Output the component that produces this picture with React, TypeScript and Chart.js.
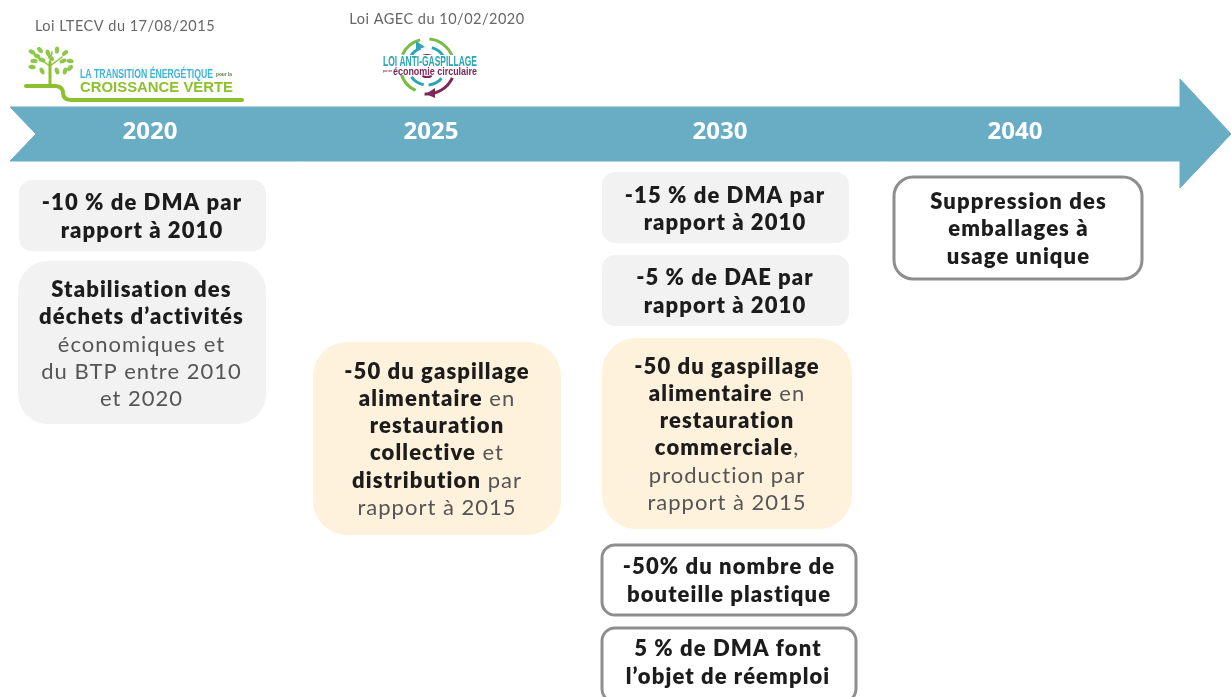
import React, { useEffect, useRef } from "react";
import { Chart, registerables } from "chart.js";

Chart.register(...registerables);

const W = 1231;
const H = 697;

// ---- content ----
const years = ["2020", "2025", "2030", "2040"];
const lawLabels = ["Loi LTECV du 17/08/2015", "Loi AGEC du 10/02/2020"];
const logoOneLines = ["LA TRANSITION ÉNERGÉTIQUE", "pour la", "CROISSANCE VERTE"];
const logoTwoLines = ["LOI ANTI-GASPILLAGE", "pour une", "économie circulaire"];

const textsDma2020 = ["**-10 % de DMA par**", "**rapport à 2010**"];
const textsStab = ["**Stabilisation des**", "**déchets d’activités**", "économiques et", "du BTP entre 2010", "et 2020"];
const textsGasp2025 = ["**-50 du gaspillage**", "**alimentaire** en", "**restauration**", "**collective** et", "**distribution** par", "rapport à 2015"];
const textsDma2030 = ["**-15 % de DMA par**", "**rapport à 2010**"];
const textsDae = ["**-5 % de DAE par**", "**rapport à 2010**"];
const textsGasp2030 = ["**-50 du gaspillage**", "**alimentaire** en", "**restauration**", "**commerciale**,", "production par", "rapport à 2015"];
const textsBottle = ["**-50% du nombre de**", "**bouteille plastique**"];
const textsReuse = ["**5 % de DMA font**", "**l’objet de réemploi**"];
const textsPack = ["**Suppression des**", "**emballages à**", "**usage unique**"];

// ---- layout ----
const arrowShape = [
  { x: 10, y: 107 }, { x: 1180, y: 107 }, { x: 1180, y: 79 }, { x: 1231, y: 134 },
  { x: 1180, y: 188 }, { x: 1180, y: 161 }, { x: 10, y: 161 }, { x: 36, y: 134 }, { x: 10, y: 107 },
];
const yearX = [150, 431, 720, 1015];
const lawPos = [{ x: 125, y: 26 }, { x: 437, y: 19.5 }];

type Box = { x0: number; x1: number; y0: number; y1: number; r: number; kind: string; cx: number; ys: number[]; lines: string[] };
const boxes: Box[] = [
  { x0: 19, x1: 266, y0: 180, y1: 251, r: 13, kind: "gray", cx: 142, ys: [203, 231], lines: textsDma2020 },
  { x0: 18, x1: 266, y0: 261, y1: 424, r: 30, kind: "gray", cx: 141.5, ys: [290, 317, 345, 372, 399], lines: textsStab },
  { x0: 313, x1: 561, y0: 342, y1: 535, r: 34, kind: "cream", cx: 437, ys: [372, 399, 426, 453, 481, 508], lines: textsGasp2025 },
  { x0: 602, x1: 849, y0: 172, y1: 243, r: 13, kind: "gray", cx: 725, ys: [196, 223], lines: textsDma2030 },
  { x0: 602, x1: 849, y0: 255, y1: 326, r: 13, kind: "gray", cx: 725, ys: [278, 306], lines: textsDae },
  { x0: 602, x1: 852, y0: 338, y1: 529, r: 34, kind: "cream", cx: 727, ys: [367, 394, 421, 448, 476, 503], lines: textsGasp2030 },
  { x0: 602, x1: 856, y0: 545, y1: 615, r: 13, kind: "line", cx: 729, ys: [567, 595], lines: textsBottle },
  { x0: 602, x1: 856, y0: 628, y1: 702, r: 13, kind: "line", cx: 728, ys: [649, 677], lines: textsReuse },
  { x0: 894, x1: 1142, y0: 177, y1: 279, r: 19, kind: "line", cx: 1018.5, ys: [202, 229, 257], lines: textsPack },
];
const leaves = [
  [32, 52, 0.5], [40, 50, 0.9], [48, 53, 1.3], [57, 50, 1.6], [65, 53, 2.4], [34, 61, 0], [42, 60, 0.3],
  [63, 61, 2.8], [70, 61, 0.2], [32, 67, 0.2], [42, 71, 1.1], [57, 71, 1.3], [65, 71, 1.8], [70, 68, 2.3], [37, 56, 0.4], [51, 58, 0.8],
];

const FONT = "Lato, 'Open Sans', sans-serif";
const fills: Record<string, string> = { gray: "#f2f2f2", cream: "#fff2dc", line: "#ffffff" };

function parseRuns(s: string) {
  return s.split("**").map((t, i) => ({ t, bold: i % 2 === 1 })).filter((r) => r.t.length > 0);
}

const drawPlugin = {
  id: "timelineDrawing",
  afterDatasetsDraw(chart: any) {
    const { ctx, scales } = chart;
    const px = (v: number) => scales.x.getPixelForValue(v);
    const py = (v: number) => scales.y.getPixelForValue(v);
    ctx.save();
    ctx.textBaseline = "middle";

    // year labels
    ctx.fillStyle = "#ffffff";
    ctx.font = `700 24px 'Open Sans', sans-serif`;
    ctx.textAlign = "center";
    years.forEach((y, i) => ctx.fillText(y, px(yearX[i]), py(132.5)));

    // law labels
    ctx.fillStyle = "#666666";
    ctx.font = `400 14.5px ${FONT}`;
    (ctx as any).letterSpacing = "0.5px";
    lawLabels.forEach((l, i) => ctx.fillText(l, px(lawPos[i].x), py(lawPos[i].y)));

    // boxes
    boxes.forEach((b) => {
      ctx.beginPath();
      ctx.roundRect(px(b.x0), py(b.y0), px(b.x1) - px(b.x0), py(b.y1) - py(b.y0), b.r);
      ctx.fillStyle = fills[b.kind];
      ctx.fill();
      if (b.kind === "line") {
        ctx.lineWidth = 3;
        ctx.strokeStyle = "#8e8e8e";
        ctx.stroke();
      }
      b.lines.forEach((line, i) => {
        const runs = parseRuns(line);
        ctx.textAlign = "left";
        const fontOf = (bold: boolean) => (bold ? `800 22px ${FONT}` : `400 22px ${FONT}`);
        const spacing = (bold: boolean) => (bold ? "1.1px" : "1px");
        let total = 0;
        runs.forEach((r) => {
          ctx.font = fontOf(r.bold);
          (ctx as any).letterSpacing = spacing(r.bold);
          total += ctx.measureText(r.t).width;
        });
        let x = px(b.cx) - total / 2;
        runs.forEach((r) => {
          ctx.font = fontOf(r.bold);
          (ctx as any).letterSpacing = spacing(r.bold);
          ctx.fillStyle = r.bold ? "#1c1c1c" : "#555555";
          ctx.fillText(r.t, x, py(b.ys[i]));
          x += ctx.measureText(r.t).width;
        });
      });
    });
    (ctx as any).letterSpacing = "0px";

    // logo 1
    const g1 = "#8dc02f";
    ctx.strokeStyle = g1;
    ctx.lineWidth = 4;
    ctx.lineCap = "round";
    ctx.beginPath();
    ctx.moveTo(px(26), py(86));
    ctx.lineTo(px(56), py(86));
    ctx.quadraticCurveTo(px(63), py(87), px(63), py(93));
    ctx.quadraticCurveTo(px(63), py(100), px(72), py(100));
    ctx.lineTo(px(242), py(100));
    ctx.stroke();
    ctx.lineWidth = 3;
    ctx.beginPath();
    ctx.moveTo(px(50), py(84));
    ctx.lineTo(px(50), py(62));
    ctx.stroke();
    ctx.lineWidth = 1.5;
    ctx.beginPath();
    ctx.moveTo(px(50), py(66));
    ctx.lineTo(px(38), py(58));
    ctx.moveTo(px(50), py(66));
    ctx.lineTo(px(62), py(57));
    ctx.moveTo(px(50), py(62));
    ctx.lineTo(px(52), py(52));
    ctx.stroke();
    ctx.fillStyle = "#8fc74a";
    leaves.forEach(([x, y, a]) => {
      ctx.beginPath();
      ctx.ellipse(px(x), py(y), 3.6, 2.2, a, 0, Math.PI * 2);
      ctx.fill();
    });
    ctx.textAlign = "left";
    ctx.font = `700 13px 'Liberation Sans Narrow', 'Liberation Sans', sans-serif`;
    ctx.fillStyle = "#3fb4d8";
    ctx.fillText(logoOneLines[0], px(80), py(74), 133);
    ctx.font = `700 6px 'Liberation Sans Narrow', sans-serif`;
    ctx.fillStyle = "#5b7a3a";
    ctx.fillText(logoOneLines[1], px(216), py(74), 16);
    ctx.font = `700 15px 'Liberation Sans', sans-serif`;
    ctx.fillStyle = g1;
    ctx.fillText(logoOneLines[2], px(80), py(87.5), 153);

    // logo 2
    const cx = px(427);
    const cy = py(66);
    const arc = (r: number, a0: number, a1: number, col: string, w: number) => {
      ctx.beginPath();
      ctx.arc(cx, cy, r, (a0 * Math.PI) / 180, (a1 * Math.PI) / 180);
      ctx.strokeStyle = col;
      ctx.lineWidth = w;
      ctx.lineCap = "butt";
      ctx.stroke();
    };
    const green = "#79bb43";
    const teal = "#2aa6b5";
    const purple = "#7c2858";
    arc(27, -85, -20, green, 3);
    arc(27, -155, -105, green, 3);
    arc(27, 115, 165, green, 3);
    arc(28, 25, 95, purple, 3);
    arc(19, -155, -110, teal, 3);
    arc(19, -75, -30, teal, 3);
    arc(19, 40, 85, teal, 3);
    arc(19, 100, 145, teal, 3);
    arc(11, -115, -65, purple, 2);
    arc(11, 65, 115, purple, 2);
    ctx.fillStyle = purple;
    ctx.beginPath();
    ctx.moveTo(px(426), py(94));
    ctx.lineTo(px(435), py(88));
    ctx.lineTo(px(435), py(98));
    ctx.fill();
    ctx.fillStyle = teal;
    ctx.beginPath();
    ctx.moveTo(px(425), py(47));
    ctx.lineTo(px(416), py(41));
    ctx.lineTo(px(416), py(50));
    ctx.fill();
    ctx.fillStyle = "#ffffff";
    ctx.fillRect(px(382), py(55), 96, 20);
    ctx.fillStyle = "#2aa6b5";
    ctx.font = `700 15px 'Liberation Sans Narrow', sans-serif`;
    ctx.fillText(logoTwoLines[0], px(383), py(62), 94);
    ctx.fillStyle = purple;
    ctx.font = `700 4px 'Liberation Sans Narrow', sans-serif`;
    ctx.fillText(logoTwoLines[1], px(383), py(71), 9);
    ctx.font = `700 11px 'Liberation Sans', sans-serif`;
    ctx.fillText(logoTwoLines[2], px(393), py(71.5), 84);
    ctx.restore();
  },
};

export default function App() {
  const ref = useRef<HTMLCanvasElement>(null);
  useEffect(() => {
    if (!ref.current) return;
    const chart = new Chart(ref.current, {
      type: "scatter",
      data: {
        datasets: [
          {
            label: "Frise",
            data: arrowShape,
            showLine: true,
            fill: "shape",
            backgroundColor: "#69adc5",
            borderColor: "#69adc5",
            borderWidth: 1,
            pointRadius: 0,
            tension: 0,
          },
        ],
      },
      options: {
        responsive: false,
        animation: false,
        layout: { padding: 0 },
        plugins: { legend: { display: false }, tooltip: { enabled: false } },
        scales: {
          x: { type: "linear", min: 0, max: W, display: false },
          y: { type: "linear", min: 0, max: H, reverse: true, display: false },
        },
      },
      plugins: [drawPlugin],
    } as any);
    return () => chart.destroy();
  }, []);
  return (
    <div style={{ position: "fixed", left: 0, top: 0, width: W, height: H, background: "#fff", overflow: "hidden" }}>
      <canvas ref={ref} width={W} height={H} style={{ display: "block", filter: "blur(0.55px)" }} />
    </div>
  );
}
